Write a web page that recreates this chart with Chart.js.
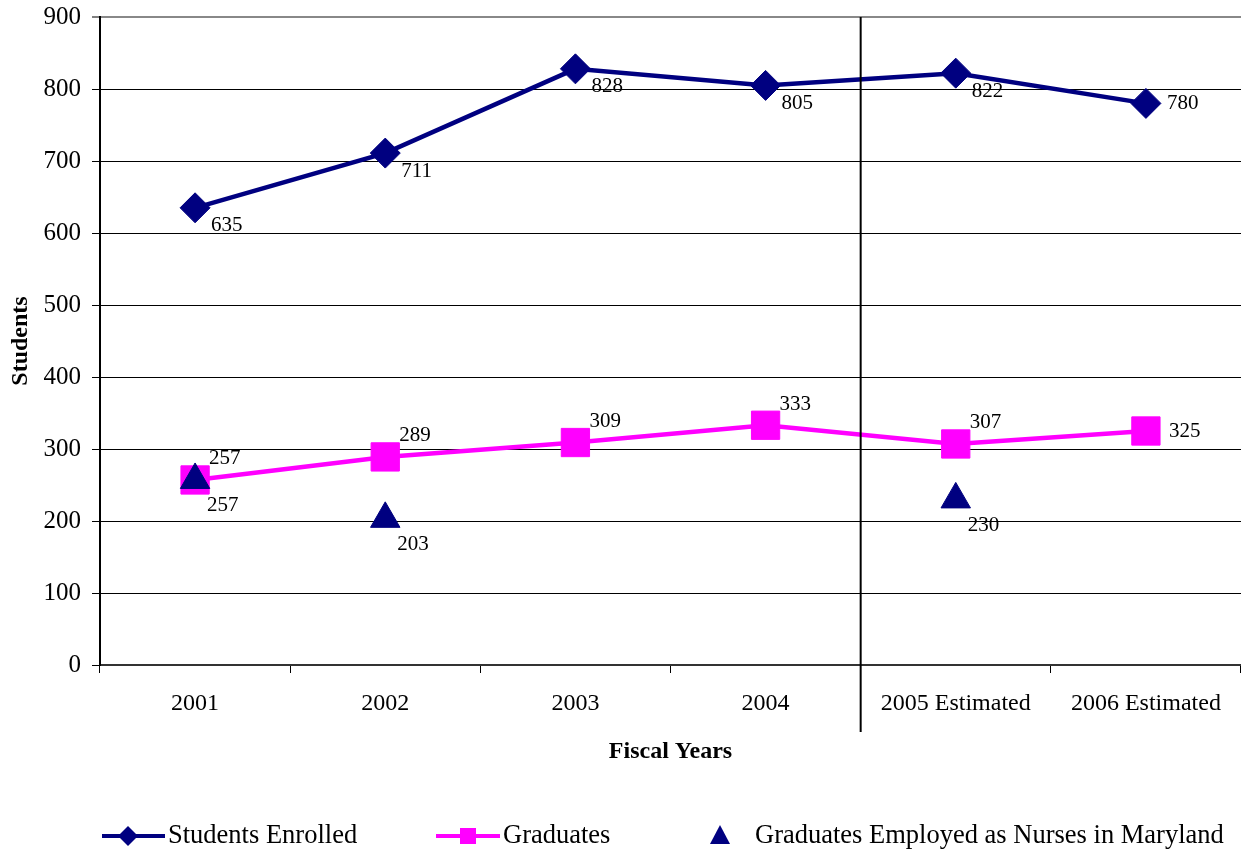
<!DOCTYPE html>
<html>
<head>
<meta charset="utf-8">
<script src="https://cdn.jsdelivr.net/npm/chart.js@4.4.1/dist/chart.umd.min.js"></script>
<style>
  html, body { margin: 0; padding: 0; background: #fff; overflow: hidden; }
  #wrap { width: 1241px; height: 850px; }
</style>
</head>
<body>
<div id="wrap"><canvas id="nursingChart"></canvas></div>
<script>
// fiscal years and student counts
const years = ['2001', '2002', '2003', '2004', '2005 Estimated', '2006 Estimated'];
const enrolled = [635, 711, 828, 805, 822, 780];
const graduates = [257, 289, 309, 333, 307, 325];
const employedInMaryland = [257, 203, null, null, 230, null];
const yMin = 0;
const yMax = 900;
const yStep = 100;

const SERIF = '"Liberation Serif", "Times New Roman", serif';
const NAVY = '#000080';
const MAGENTA = '#FF00FF';

// where each series puts its value text, relative to the point
const labelPlacement = [
  { rest: [16, 18], end: [21, 0] },
  { rest: [14, -21], end: [23, 0] },
  { rest: [12, 26], end: [12, 26] }
];

const valueLabels = {
  id: 'valueLabels',
  afterDatasetsDraw(chart) {
    const ctx = chart.ctx;
    ctx.save();
    ctx.font = '21px ' + SERIF;
    ctx.fillStyle = '#000';
    ctx.textAlign = 'left';
    ctx.textBaseline = 'middle';
    chart.data.datasets.forEach((ds, di) => {
      const meta = chart.getDatasetMeta(di);
      const place = labelPlacement[di];
      meta.data.forEach((pt, i) => {
        const v = ds.data[i];
        if (v == null) return;
        const [dx, dy] = i === ds.data.length - 1 ? place.end : place.rest;
        ctx.fillText(String(v), pt.x + dx, pt.y + dy);
      });
    });
    ctx.restore();
  }
};

// vertical rule between actual and estimated years
const estimateDivider = {
  id: 'estimateDivider',
  afterDatasetsDraw(chart) {
    const x = chart.scales.x;
    const px = (x.getPixelForValue(3) + x.getPixelForValue(4)) / 2;
    const ctx = chart.ctx;
    ctx.save();
    ctx.strokeStyle = '#000';
    ctx.lineWidth = 2;
    ctx.beginPath();
    ctx.moveTo(px, chart.chartArea.top);
    ctx.lineTo(px, chart.chartArea.bottom + 67);
    ctx.stroke();
    ctx.restore();
  }
};

// legend row along the bottom
const bottomLegend = {
  id: 'bottomLegend',
  afterDraw(chart) {
    const ctx = chart.ctx;
    const y = 836;
    ctx.save();
    ctx.font = '26.5px ' + SERIF;
    ctx.fillStyle = '#000';
    ctx.textBaseline = 'middle';
    ctx.textAlign = 'left';

    // Students Enrolled
    ctx.strokeStyle = NAVY;
    ctx.lineWidth = 4;
    ctx.beginPath(); ctx.moveTo(102, y); ctx.lineTo(165, y); ctx.stroke();
    ctx.fillStyle = NAVY;
    ctx.beginPath();
    ctx.moveTo(128, y - 10); ctx.lineTo(138, y); ctx.lineTo(128, y + 10); ctx.lineTo(118, y);
    ctx.closePath(); ctx.fill();
    ctx.fillStyle = '#000';
    ctx.fillText('Students Enrolled', 168, y);

    // Graduates
    ctx.strokeStyle = MAGENTA;
    ctx.beginPath(); ctx.moveTo(436, y); ctx.lineTo(500, y); ctx.stroke();
    ctx.fillStyle = MAGENTA;
    ctx.fillRect(460, y - 8, 16, 16);
    ctx.fillStyle = '#000';
    ctx.fillText('Graduates', 503, y);

    // Graduates Employed as Nurses in Maryland
    ctx.fillStyle = NAVY;
    ctx.beginPath();
    ctx.moveTo(720, y - 11); ctx.lineTo(730, y + 8); ctx.lineTo(710, y + 8);
    ctx.closePath(); ctx.fill();
    ctx.fillStyle = '#000';
    ctx.fillText('Graduates Employed as Nurses in Maryland', 755, y);
    ctx.restore();
  }
};

new Chart(document.getElementById('nursingChart'), {
  type: 'line',
  data: {
    labels: years,
    datasets: [{
      label: 'Students Enrolled',
      data: enrolled,
      borderColor: NAVY,
      backgroundColor: NAVY,
      borderWidth: 4.5,
      pointStyle: 'rectRot',
      pointRadius: 15,
      pointBorderWidth: 1,
      tension: 0,
      order: 1
    }, {
      label: 'Graduates',
      data: graduates,
      borderColor: MAGENTA,
      backgroundColor: MAGENTA,
      borderWidth: 4.5,
      pointStyle: 'rect',
      pointRadius: 20,
      pointBorderWidth: 1,
      tension: 0,
      order: 2
    }, {
      label: 'Graduates Employed as Nurses in Maryland',
      data: employedInMaryland,
      borderColor: NAVY,
      backgroundColor: NAVY,
      showLine: false,
      pointStyle: 'triangle',
      pointRadius: 17,
      pointBorderWidth: 1,
      order: 0
    }]
  },
  options: {
    responsive: true,
    maintainAspectRatio: false,
    animation: false,
    layout: { autoPadding: false, padding: { top: 17, left: 0, right: 0, bottom: 0 } },
    plugins: {
      legend: { display: false },
      tooltip: { enabled: false }
    },
    scales: {
      x: {
        offset: true,
        grid: {
          offset: true,
          drawOnChartArea: false,
          drawTicks: true,
          tickLength: 8,
          color: '#000',
          lineWidth: 1
        },
        border: { color: '#333', width: 2 },
        ticks: {
          color: '#000',
          font: { family: SERIF, size: 24 },
          padding: 16,
          maxRotation: 0,
          autoSkip: false
        },
        title: {
          display: true,
          text: 'Fiscal Years',
          color: '#000',
          font: { family: SERIF, size: 24, weight: 'bold' },
          padding: { top: 0, bottom: 84 }
        },
        afterFit(scale) {
          scale.height = 185;
          scale.paddingLeft = 0;
          scale.paddingRight = 0;
        }
      },
      y: {
        min: yMin,
        max: yMax,
        ticks: {
          stepSize: yStep,
          color: '#000',
          font: { family: SERIF, size: 25 },
          padding: 11
        },
        grid: {
          color: ctx => ctx.tick && ctx.tick.value === yMax ? '#888' : '#000',
          lineWidth: ctx => ctx.tick && ctx.tick.value === yMax ? 2 : 1,
          tickColor: '#000',
          tickWidth: 1,
          tickLength: 8
        },
        border: { color: '#000', width: 2 },
        title: {
          display: true,
          text: 'Students',
          color: '#000',
          font: { family: SERIF, size: 24, weight: 'bold' },
          padding: { top: 6, bottom: 0 }
        },
        afterFit(scale) {
          scale.width = 100;
          scale.paddingTop = 0;
          scale.paddingBottom = 0;
        }
      }
    }
  },
  plugins: [estimateDivider, valueLabels, bottomLegend]
});
</script>
</body>
</html>
